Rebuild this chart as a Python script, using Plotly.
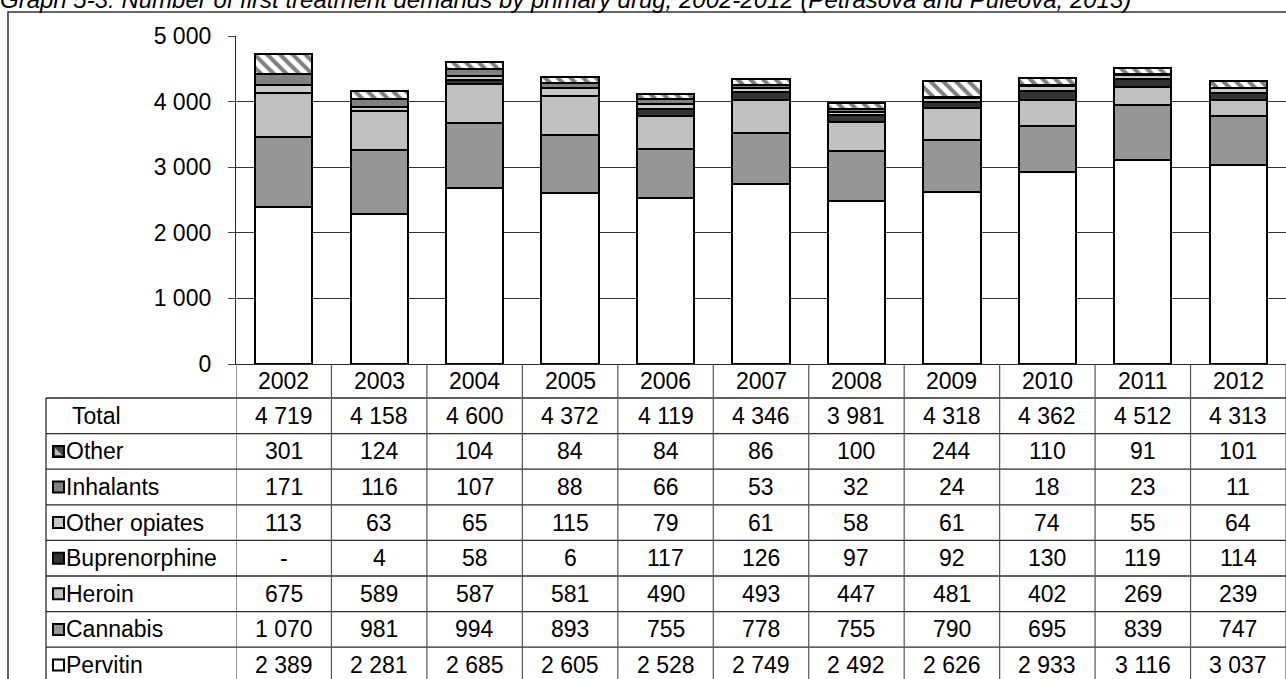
import plotly.graph_objects as go

# ---------------- data ----------------
years = ["2002", "2003", "2004", "2005", "2006", "2007", "2008", "2009", "2010", "2011", "2012"]
pervitin = [2389, 2281, 2685, 2605, 2528, 2749, 2492, 2626, 2933, 3116, 3037]
cannabis = [1070, 981, 994, 893, 755, 778, 755, 790, 695, 839, 747]
heroin = [675, 589, 587, 581, 490, 493, 447, 481, 402, 269, 239]
buprenorphine = [None, 4, 58, 6, 117, 126, 97, 92, 130, 119, 114]
other_opiates = [113, 63, 65, 115, 79, 61, 58, 61, 74, 55, 64]
inhalants = [171, 116, 107, 88, 66, 53, 32, 24, 18, 23, 11]
other = [301, 124, 104, 84, 84, 86, 100, 244, 110, 91, 101]
total = [4719, 4158, 4600, 4372, 4119, 4346, 3981, 4318, 4362, 4512, 4313]

y_ticks = [0, 1000, 2000, 3000, 4000, 5000]
title_text = "Graph 5-3: Number of first treatment demands by primary drug, 2002-2012 (Petrasova and Puleova, 2013)"

# ---------------- layout geometry (pixels) ----------------
W, H = 1286, 679
L, T, B = 236, 36, 364
PW, PH = W - L, B - T
FONT = "Liberation Sans, Arial, sans-serif"
FS = 23
LINE = "#2b2b2b"


def py(p):
    return (B - p) / PH


def px(p):
    return (p - L) / PW


def fmt(v):
    if v is None:
        return "-"
    return f"{v:,}".replace(",", " ")


series = [
    ("Pervitin", pervitin, dict(color="white")),
    ("Cannabis", cannabis, dict(color="#969696")),
    ("Heroin", heroin, dict(color="#c0c0c0")),
    ("Buprenorphine", buprenorphine, dict(color="#333333")),
    ("Other opiates", other_opiates, dict(color="#c8c8c8")),
    ("Inhalants", inhalants, dict(color="#808080")),
    ("Other", other, dict(color="white", pattern=dict(shape="\\", fgcolor="black", bgcolor="white", size=9, solidity=0.45))),
]

fig = go.Figure()
for name, vals, mk in series:
    m = dict(mk)
    m["line"] = dict(color="black", width=2)
    fig.add_trace(go.Bar(x=years, y=[v if v is not None else 0 for v in vals], name=name, marker=m))

shapes = []
annotations = []

# outer frame
shapes.append(dict(type="rect", xref="paper", yref="paper", x0=px(8), x1=px(1295), y0=py(12), y1=py(700),
                   line=dict(color="#333333", width=1.5), fillcolor="rgba(0,0,0,0)", layer="below"))

# table rows (top to bottom)
table_rows = [
    ("Total", total, None),
    ("Other", other, "other"),
    ("Inhalants", inhalants, "#808080"),
    ("Other opiates", other_opiates, "#c8c8c8"),
    ("Buprenorphine", buprenorphine, "#333333"),
    ("Heroin", heroin, "#c0c0c0"),
    ("Cannabis", cannabis, "#969696"),
    ("Pervitin", pervitin, "white"),
]
row_h = 35.6
edges = [B, 398] + [398 + row_h * k for k in range(1, len(table_rows) + 1)]

# horizontal lines
for e in edges[1:]:
    shapes.append(dict(type="line", xref="paper", yref="paper", x0=px(46), x1=px(1295), y0=py(e), y1=py(e),
                       line=dict(color=LINE, width=1.3)))
# vertical lines
shapes.append(dict(type="line", xref="paper", yref="paper", x0=px(46), x1=px(46), y0=py(398), y1=py(700),
                   line=dict(color=LINE, width=1.3)))
for k in range(len(years) + 1):
    shapes.append(dict(type="line", xref="x", yref="paper", x0=k - 0.5, x1=k - 0.5, y0=py(B), y1=py(700),
                       line=dict(color="#555555", width=1.2)))

# year row
yc = (edges[0] + edges[1]) / 2
for i, yr in enumerate(years):
    annotations.append(dict(x=i, xref="x", y=py(yc), yref="paper", text=yr, showarrow=False,
                            font=dict(family=FONT, size=FS, color="black"), xanchor="center", yanchor="middle"))

for r, (label, vals, icon) in enumerate(table_rows):
    yc = (edges[r + 1] + edges[r + 2]) / 2
    if icon is None:
        annotations.append(dict(x=px(70), xref="paper", y=py(yc), yref="paper", text=label, showarrow=False,
                                font=dict(family=FONT, size=FS, color="black"), xanchor="left", yanchor="middle"))
    else:
        annotations.append(dict(x=px(64), xref="paper", y=py(yc), yref="paper", text=label, showarrow=False,
                                font=dict(family=FONT, size=FS, color="black"), xanchor="left", yanchor="middle"))
        x0, x1 = px(53), px(64)
        y0, y1 = py(yc + 5.5), py(yc - 5.5)
        if icon == "other":
            shapes.append(dict(type="rect", xref="paper", yref="paper", x0=x0, x1=x1, y0=y0, y1=y1,
                               fillcolor="#444444", line=dict(color="black", width=2)))
            shapes.append(dict(type="path", xref="paper", yref="paper",
                               path=f"M {px(55)},{py(yc - 3.5)} L {px(62)},{py(yc + 3.5)} L {px(55)},{py(yc + 3.5)} Z",
                               fillcolor="#bbbbbb", line=dict(width=0)))
        else:
            shapes.append(dict(type="rect", xref="paper", yref="paper", x0=x0, x1=x1, y0=y0, y1=y1,
                               fillcolor=icon, line=dict(color="black", width=2)))
    for i in range(len(years)):
        annotations.append(dict(x=i, xref="x", y=py(yc), yref="paper", text=fmt(vals[i]), showarrow=False,
                                font=dict(family=FONT, size=FS, color="black"), xanchor="center", yanchor="middle"))

# title (partially clipped at top as in the reference)
annotations.append(dict(x=px(-2), xref="paper", y=py(-1), yref="paper", text=f"<i>{title_text}</i>",
                        showarrow=False, font=dict(family=FONT, size=24, color="black"),
                        xanchor="left", yanchor="middle"))

fig.update_layout(
    width=W, height=H,
    margin=dict(l=L, r=0, t=T, b=H - B, pad=0),
    barmode="stack", bargap=0.4,
    showlegend=False,
    plot_bgcolor="white", paper_bgcolor="white",
    separators=". ",
    shapes=shapes, annotations=annotations,
    font=dict(family=FONT, size=FS, color="black"),
)
fig.update_xaxes(type="category", showticklabels=False, ticks="", showgrid=False, showline=True, linecolor=LINE,
                 linewidth=1.3, range=[-0.5, len(years) - 0.5])
fig.update_yaxes(range=[0, 5000], tickvals=y_ticks, tickformat=",d", showgrid=True, gridcolor="#333333",
                 gridwidth=1, showline=True, linecolor=LINE, linewidth=1.3, ticks="outside", ticklen=7,
                 tickcolor="#444444", tickfont=dict(family=FONT, size=FS, color="black"), ticklabelstandoff=12,
                 zeroline=False)

fig.write_html("out.html")
